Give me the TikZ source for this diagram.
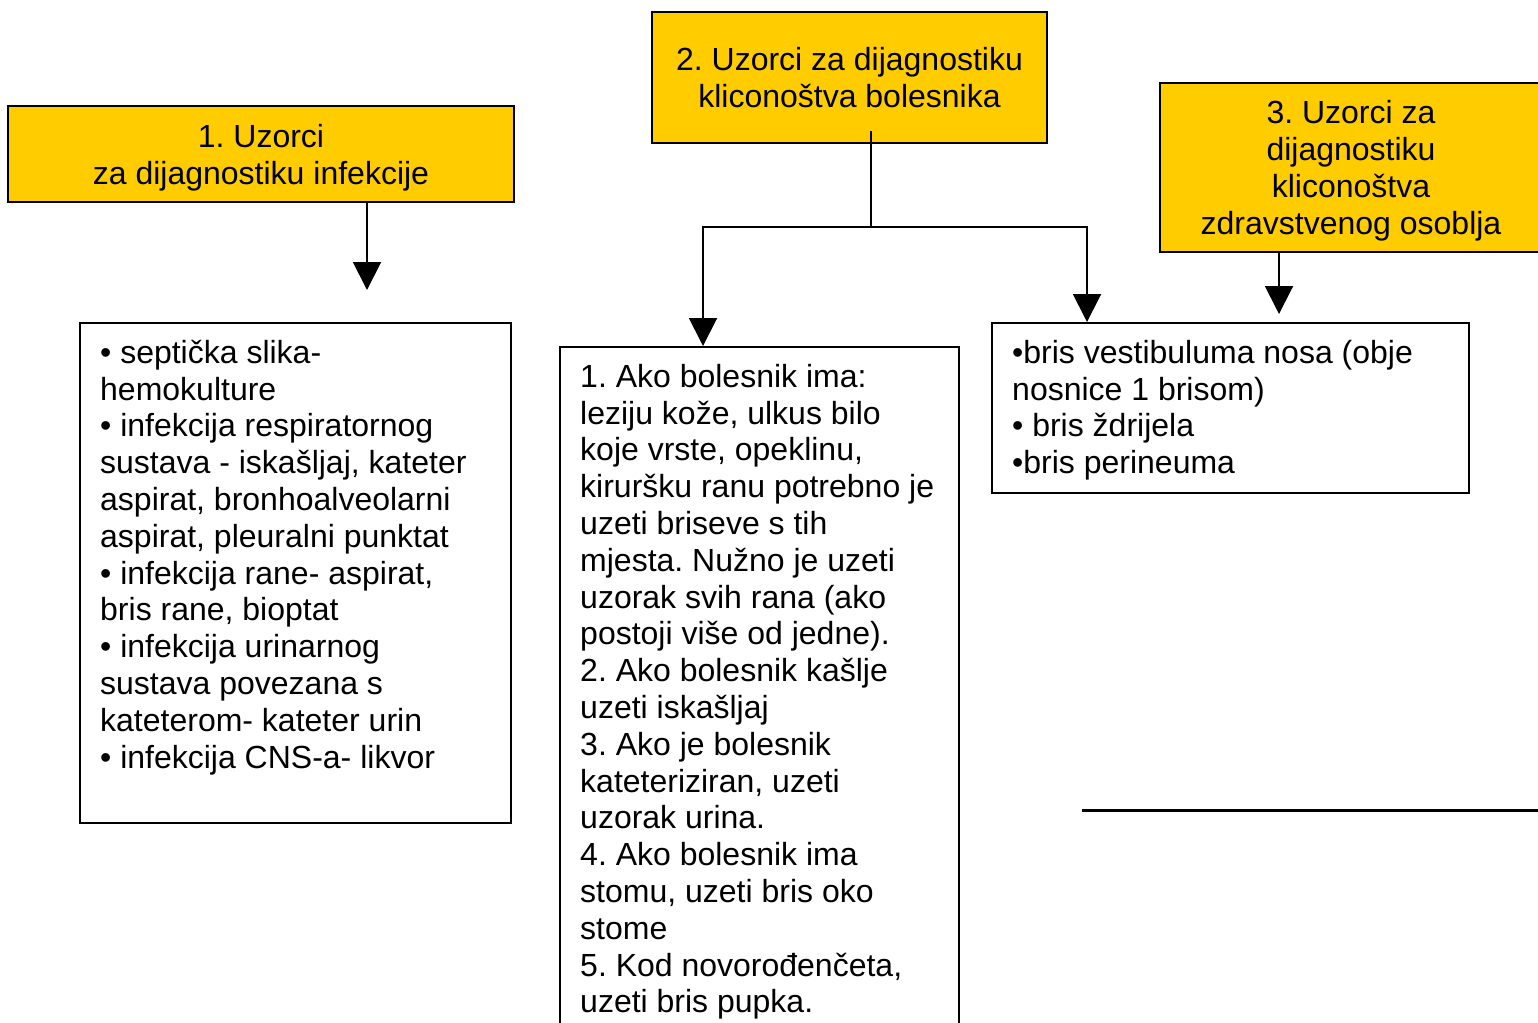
\documentclass[tikz,border=0pt]{standalone}
\usepackage{fontspec}
\setmainfont{Liberation Sans}
\usetikzlibrary{arrows.meta}
\definecolor{boxyellow}{HTML}{FFCC00}
\frenchspacing
\begin{document}
\begin{tikzpicture}[x=1pt,y=-1pt,
  box/.style={draw=black, line width=2pt, inner sep=0pt, anchor=north west},
  yellowbox/.style={box, fill=boxyellow, align=center, font=\fontsize{32}{36.8}\selectfont},
  txt/.style={inner sep=0pt, anchor=north west, align=left, font=\fontsize{32}{36.8}\selectfont},
  conn/.style={line width=2pt},
  arr/.style={conn, -{Triangle[width=28pt,length=28pt]}}]
\clip (0,0) rectangle (1538,1022);
\fill[white] (0,0) rectangle (1538,1022);

% yellow title boxes
\node[yellowbox, minimum width=506pt, minimum height=96pt] (T1) at (7,105)
  {\rule{0pt}{31pt}1. Uzorci\\za dijagnostiku infekcije};
\node[yellowbox, minimum width=395pt, minimum height=131pt] (T2) at (651,11)
  {2. Uzorci za dijagnostiku\\kliconoštva bolesnika};
\node[yellowbox, minimum width=382pt, minimum height=169pt] (T3) at (1159,82)
  {\rule{0pt}{30pt}3. Uzorci za\\dijagnostiku\\kliconoštva\\zdravstvenog osoblja};

% white content boxes
\node[box, minimum width=431pt, minimum height=500pt] (L) at (79,322) {};
\node[txt] (Lt) at (100,337) {\rule{0pt}{26pt}• septička slika-\\
hemokulture\\
• infekcija respiratornog\\
sustava - iskašljaj, kateter\\
aspirat, bronhoalveolarni\\
aspirat, pleuralni punktat\\
• infekcija rane- aspirat,\\
bris rane, bioptat\\
• infekcija urinarnog\\
sustava povezana s\\
kateterom- kateter urin\\
• infekcija CNS-a- likvor};

\node[box, minimum width=399pt, minimum height=700pt] (M) at (559,346) {};
\node[txt] (Mt) at (580,361) {\rule{0pt}{26pt}1. Ako bolesnik ima:\\
leziju kože, ulkus bilo\\
koje vrste, opeklinu,\\
kiruršku ranu potrebno je\\
uzeti briseve s tih\\
mjesta. Nužno je uzeti\\
uzorak svih rana (ako\\
postoji više od jedne).\\
2. Ako bolesnik kašlje\\
uzeti iskašljaj\\
3. Ako je bolesnik\\
kateteriziran, uzeti\\
uzorak urina.\\
4. Ako bolesnik ima\\
stomu, uzeti bris oko\\
stome\\
5. Kod novorođenčeta,\\
uzeti bris pupka.};

\node[box, minimum width=477pt, minimum height=170pt] (R) at (991,322) {};
\node[txt] (Rt) at (1012,337) {\rule{0pt}{26pt}•bris vestibuluma nosa (obje\\
nosnice 1 brisom)\\
• bris ždrijela\\
•bris perineuma};

% connectors
\coordinate (a1end) at (367,290);
\draw[arr] ([xshift=360pt]T1.south west) -- (a1end);

\coordinate (b2) at (871,131);
\coordinate (j) at (871,227);
\draw[conn] (b2) -- (j);
\draw[arr] (j) -| ([xshift=144pt]M.north west);
\draw[arr] (j) -| ([xshift=96pt]R.north west);

\coordinate (a3end) at (1279,314);
\draw[arr] ([xshift=120pt]T3.south west) -- (a3end);

% stray line
\draw[line width=3pt] (1082,810) -- (1545,810);
\end{tikzpicture}
\end{document}
